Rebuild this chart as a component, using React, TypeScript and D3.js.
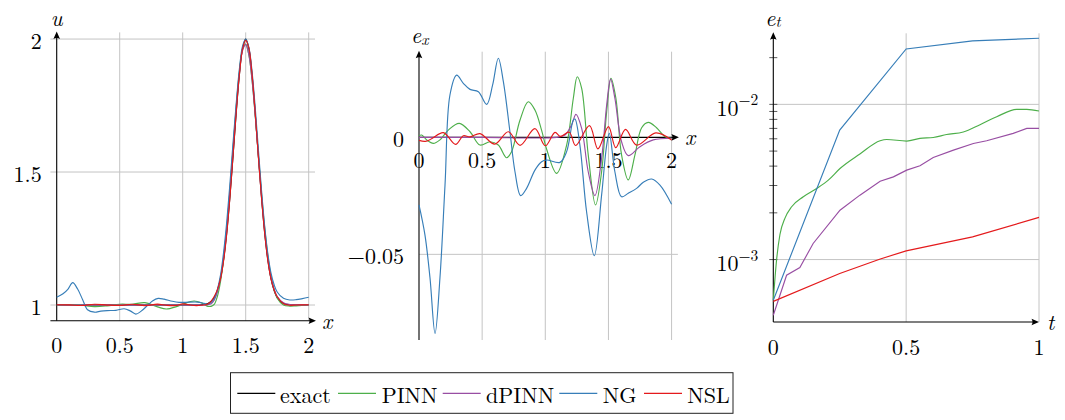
import React from 'react';
import * as d3 from 'd3';

// ---------- Panel 1: u(x) ----------
const U_X = [0, 0.1, 0.2, 0.3, 0.4, 0.5, 0.6, 0.7, 0.8, 0.87, 0.95, 1.0, 1.09, 1.15, 1.2, 1.225, 1.25, 1.275, 1.3, 1.325, 1.35, 1.375, 1.4, 1.425, 1.45, 1.475, 1.5, 1.525, 1.55, 1.575, 1.6, 1.625, 1.65, 1.675, 1.7, 1.725, 1.75, 1.8, 1.85, 1.9, 2.0];
const U_EXACT = [1, 1, 1, 1, 1, 1, 1, 1, 1, 1, 1, 1, 1, 1.001, 1.006, 1.013, 1.028, 1.055, 1.1, 1.172, 1.275, 1.408, 1.563, 1.724, 1.866, 1.965, 2.0, 1.965, 1.866, 1.724, 1.563, 1.408, 1.275, 1.172, 1.1, 1.055, 1.028, 1.006, 1.001, 1.0, 1.0];
const U_PINN = [0.999, 1.002, 0.999, 0.994, 0.997, 1.003, 1.003, 1.009, 0.993, 0.985, 0.994, 1.003, 1.015, 1.008, 0.995, 0.995, 1.002, 1.032, 1.088, 1.174, 1.287, 1.43, 1.592, 1.748, 1.878, 1.961, 1.981, 1.94, 1.847, 1.716, 1.569, 1.422, 1.293, 1.188, 1.11, 1.059, 1.026, 1.0, 0.996, 0.997, 1.0];
const U_DPINN = [1, 1, 1, 1, 1, 1, 1, 1, 1, 1, 1, 1, 1, 1.0, 1.0015, 1.005, 1.0185, 1.049, 1.101, 1.182, 1.293, 1.432, 1.5875, 1.742, 1.873, 1.957, 1.979, 1.941, 1.849, 1.717, 1.564, 1.414, 1.283, 1.179, 1.106, 1.06, 1.032, 1.0085, 1.002, 1.001, 1.0];
const U_NSL = [1.001, 1.0005, 0.998, 1.003, 0.9998, 0.9985, 1.003, 0.9977, 1.0034, 0.999, 0.998, 1.004, 0.998, 0.999, 1.004, 1.014, 1.032, 1.057, 1.098, 1.168, 1.27, 1.406, 1.566, 1.728, 1.867, 1.962, 1.995, 1.966, 1.87, 1.726, 1.562, 1.406, 1.273, 1.17, 1.101, 1.058, 1.031, 1.005, 0.999, 1.0, 1.001];
const U_NG_X = [0, 0.05, 0.09, 0.127, 0.166, 0.206, 0.245, 0.3, 0.35, 0.4, 0.47, 0.536, 0.583, 0.628, 0.668, 0.72, 0.76, 0.805, 0.852, 0.918, 0.971, 1.02, 1.116, 1.17, 1.2, 1.25, 1.275, 1.3, 1.325, 1.35, 1.375, 1.4, 1.425, 1.45, 1.475, 1.5, 1.525, 1.55, 1.575, 1.6, 1.625, 1.65, 1.675, 1.7, 1.725, 1.75, 1.8, 1.85, 1.9, 1.95, 2];
const U_NG = [1.029, 1.042, 1.06, 1.084, 1.06, 1.02, 0.982, 0.973, 0.977, 0.979, 0.98, 0.986, 0.978, 0.966, 0.976, 0.998, 1.015, 1.025, 1.022, 1.014, 1.01, 1.01, 1.011, 1.006, 1.003, 1.024, 1.058, 1.112, 1.2, 1.315, 1.457, 1.612, 1.759, 1.888, 1.973, 2.0, 1.969, 1.88, 1.745, 1.588, 1.434, 1.299, 1.195, 1.122, 1.077, 1.049, 1.025, 1.019, 1.02, 1.024, 1.029];
const U_XTICKS = [0, 0.5, 1, 1.5, 2];
const U_XTICK_LABELS = ['0', '0.5', '1', '1.5', '2'];
const U_YTICKS = [1, 1.5, 2];
const U_YTICK_LABELS = ['1', '1.5', '2'];

// ---------- Panel 2: e_x(x) ----------
const EX_PINN_X = [0, 0.021, 0.061, 0.113, 0.166, 0.232, 0.319, 0.404, 0.483, 0.562, 0.628, 0.694, 0.733, 0.8, 0.865, 0.918, 0.971, 1.01, 1.09, 1.169, 1.222, 1.253, 1.288, 1.34, 1.398, 1.446, 1.486, 1.52, 1.559, 1.604, 1.657, 1.71, 1.763, 1.815, 1.881, 1.947, 2.0];
const EX_PINN = [0.0007, 0.001, -0.0011, -0.0026, -0.0011, 0.0031, 0.006, 0.0024, -0.0033, -0.0019, -0.0033, -0.0087, -0.0061, 0.0074, 0.0152, 0.0117, 0.003, -0.005, -0.0154, -0.0033, 0.0167, 0.0259, 0.0209, -0.0075, -0.0289, -0.0147, 0.011, 0.0252, 0.0167, -0.0075, -0.0182, -0.0075, 0.0041, 0.0064, 0.0041, 0.0003, -0.0004];
const EX_DPINN_X = [0, 0.5, 1.09, 1.156, 1.208, 1.243, 1.288, 1.34, 1.393, 1.446, 1.486, 1.517, 1.551, 1.604, 1.657, 1.749, 1.855, 2.0];
const EX_DPINN = [0, 0, 0, 0.001, 0.0053, 0.0098, 0.0038, -0.0147, -0.0249, -0.009, 0.0138, 0.0249, 0.0167, -0.0019, -0.0078, -0.004, -0.0011, -0.0004];
const EX_NG_X = [0, 0.047, 0.087, 0.127, 0.166, 0.206, 0.245, 0.298, 0.351, 0.404, 0.47, 0.536, 0.583, 0.628, 0.668, 0.72, 0.76, 0.805, 0.852, 0.918, 0.971, 1.011, 1.116, 1.169, 1.222, 1.235, 1.274, 1.327, 1.388, 1.446, 1.486, 1.507, 1.551, 1.604, 1.657, 1.723, 1.776, 1.842, 1.908, 2.0];
const EX_NG = [-0.0289, -0.0417, -0.06, -0.0838, -0.06, -0.0204, 0.0181, 0.0266, 0.0231, 0.0205, 0.0195, 0.0141, 0.0224, 0.0338, 0.0238, 0.0024, -0.0147, -0.0249, -0.0218, -0.014, -0.0104, -0.0097, -0.0107, -0.0061, 0.0074, 0.0078, -0.0033, -0.0318, -0.0506, -0.0246, -0.0033, 0.0017, -0.0147, -0.0254, -0.0239, -0.0218, -0.0192, -0.0178, -0.0204, -0.0286];
const EX_NSL_X = [0, 0.05, 0.1, 0.193, 0.29, 0.351, 0.404, 0.483, 0.6, 0.707, 0.8, 0.918, 1.0, 1.077, 1.12, 1.19, 1.24, 1.35, 1.417, 1.5, 1.558, 1.635, 1.723, 1.875, 2.0];
const EX_NSL = [-0.0013, -0.0017, -0.0006, 0.002, -0.003, 0.0007, 0.0002, 0.0016, -0.0029, 0.0024, -0.0034, 0.0037, -0.0036, 0.0021, 0.0004, 0.0022, -0.0035, 0.005, -0.0049, 0.0046, -0.0044, 0.0034, -0.0033, 0.0019, -0.0011];
const EX_XTICKS = [0, 0.5, 1, 1.5, 2];
const EX_XTICK_LABELS = ['0', '0.5', '1', '1.5', '2'];
const EX_YTICKS = [0, -0.05];
const EX_YTICK_LABELS = ['0', '\u22120.05'];

// ---------- Panel 3: e_t(t) ----------
const ET_PINN_T = [0, 0.0125, 0.025, 0.044, 0.069, 0.113, 0.163, 0.207, 0.251, 0.326, 0.402, 0.427, 0.502, 0.552, 0.602, 0.652, 0.715, 0.778, 0.841, 0.916, 0.954, 1.0];
const ET_PINN = [5.47e-4, 1.0e-3, 1.45e-3, 1.85e-3, 2.19e-3, 2.54e-3, 2.87e-3, 3.25e-3, 3.86e-3, 4.79e-3, 5.83e-3, 5.94e-3, 5.8e-3, 6.04e-3, 6.12e-3, 6.39e-3, 6.63e-3, 7.4e-3, 8.32e-3, 9.29e-3, 9.29e-3, 9.06e-3];
const ET_DPINN_T = [0, 0.05, 0.1, 0.15, 0.251, 0.326, 0.402, 0.452, 0.502, 0.552, 0.602, 0.678, 0.753, 0.803, 0.903, 0.954, 1.0];
const ET_DPINN = [4.38e-4, 7.93e-4, 8.88e-4, 1.27e-3, 2.08e-3, 2.6e-3, 3.2e-3, 3.41e-3, 3.77e-3, 4.02e-3, 4.55e-3, 5.07e-3, 5.6e-3, 5.83e-3, 6.5e-3, 7.0e-3, 7.0e-3];
const ET_NG_T = [0, 0.25, 0.5, 0.75, 1];
const ET_NG = [5.47e-4, 6.83e-3, 2.275e-2, 2.565e-2, 2.667e-2];
const ET_NSL_T = [0, 0.25, 0.4, 0.5, 0.75, 1];
const ET_NSL = [5.38e-4, 8.13e-4, 1.005e-3, 1.138e-3, 1.4e-3, 1.87e-3];
const ET_XTICKS = [0, 0.5, 1];
const ET_XTICK_LABELS = ['0', '0.5', '1'];
const ET_YTICKS = [1e-3, 1e-2];
const ET_YTICK_EXP = ['\u22123', '\u22122'];
const ET_MINOR = [2e-3, 3e-3, 4e-3, 5e-3, 6e-3, 7e-3, 8e-3, 9e-3, 2e-2];

// ---------- Legend ----------
const LEGEND = ['exact', 'PINN', 'dPINN', 'NG', 'NSL'];
const COLORS: Record<string, string> = {
  exact: '#000000',
  PINN: '#4daf4a',
  dPINN: '#984ea3',
  NG: '#377eb8',
  NSL: '#e41a1c',
};

const FONT = '"Latin Modern Roman"';
const FS = 22;
const SUB = 15.5;
const GRID = '#c4c4c4';
const TXT: React.CSSProperties = { fontFamily: FONT };
const ITXT: React.CSSProperties = { fontFamily: FONT, fontStyle: 'italic' };

function zip(xs: number[], ys: number[]): [number, number][] {
  return xs.map((x, i) => [x, ys[i]]);
}

function arrowRight(x: number, y: number) {
  return `M${x},${y} L${x - 7.5},${y - 3.3} Q${x - 5.5},${y} ${x - 7.5},${y + 3.3} Z`;
}
function arrowUp(x: number, y: number) {
  return `M${x},${y} L${x - 3.3},${y + 7.5} Q${x},${y + 5.5} ${x + 3.3},${y + 7.5} Z`;
}

export default function App() {
  const x1 = d3.scaleLinear().domain([-0.05, 2.05]).range([50.4, 315]);
  const y1 = d3.scaleLinear().domain([0.941, 2.025]).range([320.7, 32.4]);
  const line1 = (xs: number[], ys: number[]) =>
    d3.line<[number, number]>().x(d => x1(d[0])).y(d => y1(d[1])).curve(d3.curveCatmullRom.alpha(0.5))(zip(xs, ys)) || '';

  const x2 = d3.scaleLinear().domain([0, 2.05]).range([419, 677.9]);
  const y2 = d3.scaleLinear().domain([-0.0866, 0.0366]).range([340, 51.7]);
  const line2 = (xs: number[], ys: number[]) =>
    d3.line<[number, number]>().x(d => x2(d[0])).y(d => y2(d[1])).curve(d3.curveCatmullRom.alpha(0.5))(zip(xs, ys)) || '';

  const x3 = d3.scaleLinear().domain([0, 1]).range([773.3, 1039]);
  const y3 = d3.scaleLog().domain([3.96e-4, 0.0287]).range([322, 33.3]);
  const line3 = (xs: number[], ys: number[], smooth = false) =>
    d3.line<[number, number]>().x(d => x3(d[0])).y(d => y3(d[1])).curve(smooth ? d3.curveMonotoneX : d3.curveLinear)(zip(xs, ys)) || '';

  const sw = 1.15;

  const legendItems = [
    { name: 'exact', lx: 237.3, tx: 280 },
    { name: 'PINN', lx: 338, tx: 381.7 },
    { name: 'dPINN', lx: 442.7, tx: 486 },
    { name: 'NG', lx: 559.3, tx: 602.7 },
    { name: 'NSL', lx: 644, tx: 687.3 },
  ];

  return (
    <svg width={1065} height={420} style={{ position: 'absolute', left: 0, top: 0, background: '#fff' }}>
      <rect x={0} y={0} width={1065} height={420} fill="#fff" />

      {/* ===== Panel 1 ===== */}
      <g>
        {U_XTICKS.filter(v => v > 0).map(v => (
          <line key={'g1v' + v} x1={x1(v)} x2={x1(v)} y1={y1(0.941)} y2={y1(2.025)} stroke={GRID} strokeWidth={1} />
        ))}
        {U_YTICKS.map(v => (
          <line key={'g1h' + v} x1={x1(-0.05)} x2={x1(2.05)} y1={y1(v)} y2={y1(v)} stroke={GRID} strokeWidth={1} />
        ))}
        <line x1={x1(-0.05)} x2={x1(2.05) - 4} y1={y1(0.941)} y2={y1(0.941)} stroke="#000" strokeWidth={1.1} />
        <path d={arrowRight(x1(2.05) + 1, y1(0.941))} fill="#000" />
        <line x1={x1(0)} x2={x1(0)} y1={y1(0.941)} y2={y1(2.025) + 4} stroke="#000" strokeWidth={1.1} />
        <path d={arrowUp(x1(0), y1(2.025) - 1)} fill="#000" />
        {U_XTICKS.map((v, i) => (
          <text key={'t1x' + v} x={x1(v)} y={343} textAnchor="middle" dominantBaseline="central" fontSize={FS} style={TXT}>{U_XTICK_LABELS[i]}</text>
        ))}
        {U_YTICKS.map((v, i) => (
          <text key={'t1y' + v} x={x1(0) - 15} y={y1(v)} textAnchor="end" dominantBaseline="central" fontSize={FS} style={TXT}>{U_YTICK_LABELS[i]}</text>
        ))}
        <text x={x1(0)} y={16} textAnchor="middle" dominantBaseline="central" fontSize={FS} style={ITXT}>u</text>
        <text x={322} y={319} dominantBaseline="central" fontSize={FS} style={ITXT}>x</text>

        <path d={line1(U_X, U_EXACT)} fill="none" stroke={COLORS.exact} strokeWidth={sw} />
        <path d={line1(U_X, U_PINN)} fill="none" stroke={COLORS.PINN} strokeWidth={sw} />
        <path d={line1(U_X, U_DPINN)} fill="none" stroke={COLORS.dPINN} strokeWidth={sw} />
        <path d={line1(U_NG_X, U_NG)} fill="none" stroke={COLORS.NG} strokeWidth={sw} />
        <path d={line1(U_X, U_NSL)} fill="none" stroke={COLORS.NSL} strokeWidth={sw} />
      </g>

      {/* ===== Panel 2 ===== */}
      <g>
        {EX_XTICKS.filter(v => v > 0).map(v => (
          <line key={'g2v' + v} x1={x2(v)} x2={x2(v)} y1={y2(-0.0866)} y2={y2(0.0366)} stroke={GRID} strokeWidth={1} />
        ))}
        {EX_YTICKS.filter(v => v !== 0).map(v => (
          <line key={'g2h' + v} x1={x2(0)} x2={x2(2.05)} y1={y2(v)} y2={y2(v)} stroke={GRID} strokeWidth={1} />
        ))}
        {EX_XTICKS.map((v, i) => (
          <text key={'t2x' + v} x={x2(v)} y={158} textAnchor="middle" dominantBaseline="central" fontSize={FS} style={TXT}>{EX_XTICK_LABELS[i]}</text>
        ))}
        {EX_YTICKS.map((v, i) => (
          <text key={'t2y' + v} x={x2(0) - 15} y={y2(v)} textAnchor="end" dominantBaseline="central" fontSize={FS} style={TXT}>{EX_YTICK_LABELS[i]}</text>
        ))}
        <line x1={x2(0)} x2={x2(2.05) - 4} y1={y2(0)} y2={y2(0)} stroke="#000" strokeWidth={1.1} />
        <path d={arrowRight(x2(2.05) + 1, y2(0))} fill="#000" />
        <line x1={x2(0)} x2={x2(0)} y1={y2(-0.0866)} y2={y2(0.0366) + 4} stroke="#000" strokeWidth={1.1} />
        <path d={arrowUp(x2(0), y2(0.0366) - 1)} fill="#000" />
        <text x={x2(0) - 8} y={33} dominantBaseline="central" fontSize={FS} style={ITXT}>
          e<tspan fontSize={SUB} dy={5}>x</tspan>
        </text>
        <text x={685} y={135} dominantBaseline="central" fontSize={FS} style={ITXT}>x</text>

        <path d={line2(EX_PINN_X, EX_PINN)} fill="none" stroke={COLORS.PINN} strokeWidth={sw} />
        <path d={line2(EX_DPINN_X, EX_DPINN)} fill="none" stroke={COLORS.dPINN} strokeWidth={sw} />
        <path d={line2(EX_NG_X, EX_NG)} fill="none" stroke={COLORS.NG} strokeWidth={sw} />
        <path d={line2(EX_NSL_X, EX_NSL)} fill="none" stroke={COLORS.NSL} strokeWidth={sw} />
      </g>

      {/* ===== Panel 3 ===== */}
      <g>
        {ET_XTICKS.filter(v => v > 0).map(v => (
          <line key={'g3v' + v} x1={x3(v)} x2={x3(v)} y1={y3(3.96e-4)} y2={y3(0.0287)} stroke={GRID} strokeWidth={1} />
        ))}
        {ET_YTICKS.map(v => (
          <line key={'g3h' + v} x1={x3(0)} x2={x3(1)} y1={y3(v)} y2={y3(v)} stroke={GRID} strokeWidth={1} />
        ))}
        {ET_MINOR.concat(ET_YTICKS).map(v => (
          <line key={'m3' + v} x1={x3(0) - 4} x2={x3(0) + 4} y1={y3(v)} y2={y3(v)} stroke="#333" strokeWidth={0.8} />
        ))}
        <line x1={x3(0)} x2={x3(1) - 4} y1={y3(3.96e-4)} y2={y3(3.96e-4)} stroke="#000" strokeWidth={1.1} />
        <path d={arrowRight(x3(1), y3(3.96e-4))} fill="#000" />
        <line x1={x3(0)} x2={x3(0)} y1={y3(3.96e-4)} y2={y3(0.0287) + 4} stroke="#000" strokeWidth={1.1} />
        <path d={arrowUp(x3(0), y3(0.0287) - 1)} fill="#000" />
        {ET_XTICKS.map((v, i) => (
          <text key={'t3x' + v} x={x3(v)} y={345} textAnchor="middle" dominantBaseline="central" fontSize={FS} style={TXT}>{ET_XTICK_LABELS[i]}</text>
        ))}
        {ET_YTICKS.map((v, i) => (
          <text key={'t3y' + v} x={x3(0) - 15} y={y3(v) + 2} textAnchor="end" dominantBaseline="central" fontSize={FS} style={TXT}>
            10<tspan fontSize={SUB} dy={-8}>{ET_YTICK_EXP[i]}</tspan>
          </text>
        ))}
        <text x={x3(0) - 8} y={16} dominantBaseline="central" fontSize={FS} style={ITXT}>
          e<tspan fontSize={SUB} dy={4}>t</tspan>
        </text>
        <text x={1047} y={320} dominantBaseline="central" fontSize={FS} style={ITXT}>t</text>

        <path d={line3(ET_PINN_T, ET_PINN, true)} fill="none" stroke={COLORS.PINN} strokeWidth={sw} />
        <path d={line3(ET_DPINN_T, ET_DPINN)} fill="none" stroke={COLORS.dPINN} strokeWidth={sw} />
        <path d={line3(ET_NG_T, ET_NG)} fill="none" stroke={COLORS.NG} strokeWidth={sw} />
        <path d={line3(ET_NSL_T, ET_NSL)} fill="none" stroke={COLORS.NSL} strokeWidth={sw} />
      </g>

      {/* ===== Legend ===== */}
      <g>
        <rect x={230.5} y={372.7} width={502.5} height={40.6} fill="#fff" stroke="#222" strokeWidth={1} />
        {legendItems.map(it => (
          <g key={it.name}>
            <line x1={it.lx} x2={it.lx + 38} y1={393.3} y2={393.3} stroke={COLORS[it.name]} strokeWidth={sw} />
            <text x={it.tx} y={393} dominantBaseline="central" fontSize={FS} style={TXT}>{LEGEND[LEGEND.indexOf(it.name)]}</text>
          </g>
        ))}
      </g>
    </svg>
  );
}
